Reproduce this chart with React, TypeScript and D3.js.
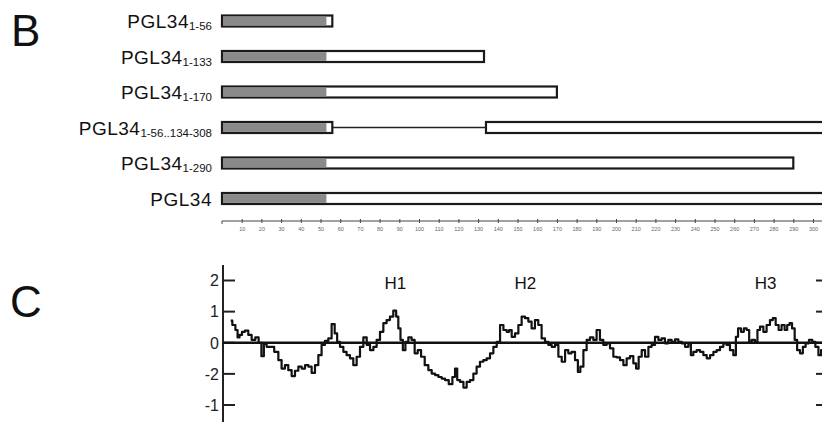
import { useRef, useEffect } from "react";
import * as d3 from "d3";

// panel B: constructs (residue ranges)
const constructNames = ["PGL34", "PGL34", "PGL34", "PGL34", "PGL34", "PGL34"];
const constructSubs = ["1-56", "1-133", "1-170", "1-56..134-308", "1-290", ""];
const constructSegments: [number, number][][] = [
  [[0, 56]],
  [[0, 133]],
  [[0, 170]],
  [[0, 56], [134, 308]],
  [[0, 290]],
  [[0, 308]],
];
const grayEnd = 53;
const axisTicks = d3.range(10, 301, 10);

// panel C: hydropathy trace
const residues = [
  4.4, 6.1, 7.5, 8.3, 9.5, 10.8, 12.5, 14.2, 15.9, 17.9, 19.3, 20.7, 21.8, 23.5, 25.2, 27.8, 29.4, 31.1, 32.8, 34.5,
  36.2, 37.9, 39.6, 41.3, 43.0, 44.7, 46.3, 48.1, 49.7, 51.4, 53.1, 54.8, 56.5, 57.9, 59.0, 60.8, 62.4, 64.1, 65.8, 67.5,
  69.2, 70.9, 72.6, 74.3, 76.0, 77.7, 79.3, 81.1, 82.7, 84.4, 86.1, 87.8, 89.0, 90.0, 91.2, 92.4, 93.8, 95.4, 97.1, 98.5,
  100.2, 101.9, 103.9, 105.6, 107.3, 109.0, 110.7, 112.3, 114.1, 116.1, 117.8, 118.8, 120.0, 121.7, 123.4, 125.0, 126.8, 128.4, 130.1, 131.8,
  133.5, 135.2, 136.9, 138.6, 140.3, 142.0, 143.7, 145.3, 146.2, 147.9, 149.6, 151.3, 152.9, 154.7, 156.3, 158.0, 159.7, 161.4, 163.1, 164.8,
  166.5, 168.2, 169.9, 171.6, 173.3, 175.0, 176.6, 178.3, 180.1, 181.2, 182.6, 184.3, 185.9, 187.7, 189.3, 191.0, 192.7, 194.4, 196.1, 197.8,
  199.5, 201.2, 202.9, 204.6, 206.2, 208.0, 209.6, 210.8, 212.2, 213.9, 215.6, 217.3, 218.9, 220.7, 222.3, 224.0, 225.7, 227.4, 229.1, 230.8,
  232.5, 234.2, 235.9, 237.6, 238.4, 240.1, 241.8, 243.5, 245.2, 246.9, 248.6, 250.3, 251.9, 253.7, 255.3, 257.0, 258.7, 260.4, 261.3, 262.6,
  264.3, 265.5, 267.2, 268.0, 269.7, 271.4, 272.2, 274.0, 275.6, 277.3, 279.0, 280.2, 281.9, 283.2, 284.9, 286.3, 287.5, 288.7, 290.0, 291.4,
  292.5, 294.3, 295.4, 297.1, 298.8, 300.5, 301.9, 303.6, 304.6,
];
const hydropathy = [
  0.71, 0.57, 0.41, 0.17, 0.25, 0.35, 0.39, 0.25, 0.09, 0.17, 0.0, -0.43, -0.04, -0.13, -0.13, -0.29, -0.56, -0.83, -0.72, -0.88,
  -1.07, -0.9, -0.77, -0.83, -0.72, -0.77, -0.97, -0.72, -0.4, -0.07, 0.06, 0.14, 0.6, 0.3, 0.03, -0.13, -0.29, -0.4, -0.5, -0.72,
  -0.45, -0.13, 0.17, -0.07, -0.24, -0.13, 0.09, 0.35, 0.63, 0.73, 0.84, 1.03, 0.84, 0.46, 0.09, -0.24, 0.03, 0.17, 0.09, -0.34,
  -0.24, -0.45, -0.72, -0.88, -0.99, -1.04, -1.1, -1.15, -1.2, -1.33, -1.1, -0.83, -1.2, -1.26, -1.44, -1.26, -1.2, -0.99, -0.77, -0.61,
  -0.56, -0.5, -0.34, -0.13, 0.03, 0.57, 0.41, 0.35, 0.41, 0.19, 0.3, 0.57, 0.84, 0.79, 0.68, 0.46, 0.73, 0.57, 0.14, 0.03,
  -0.07, -0.13, -0.07, -0.45, -0.61, -0.24, -0.34, -0.29, -0.56, -0.94, -0.77, -0.24, 0.09, 0.17, 0.09, 0.41, 0.09, -0.07, -0.02, -0.18,
  -0.45, -0.47, -0.56, -0.72, -0.5, -0.43, -0.66, -0.83, -0.45, -0.24, -0.45, -0.13, -0.07, 0.19, 0.09, 0.14, -0.02, 0.09, 0.03, 0.11,
  0.03, -0.02, -0.13, -0.02, -0.4, -0.29, -0.24, -0.29, -0.4, -0.5, -0.4, -0.29, -0.24, -0.13, -0.02, -0.07, -0.24, -0.4, 0.19, 0.46,
  0.35, 0.46, 0.41, 0.03, 0.09, 0.03, 0.41, 0.52, 0.35, 0.57, 0.73, 0.79, 0.57, 0.41, 0.57, 0.41, 0.57, 0.63, 0.46, 0.09,
  -0.24, -0.34, -0.13, -0.02, 0.09, 0.03, -0.13, -0.4, -0.24,
];
const yTickValues = [2, 1, 0, -1, -2];
const yTickLabels = ["2", "1", "0", "-2", "-1"];
const helixLabels = ["H1", "H2", "H3"];
const helixPositions = [88, 154, 276];

const W = 822;
const H = 422;
const FONT = "'Liberation Sans', Arial, Helvetica, sans-serif";

export default function App() {
  const svgRef = useRef<SVGSVGElement>(null);

  useEffect(() => {
    const svg = d3.select(svgRef.current!);
    svg.selectAll("*").remove();

    const x = d3.scaleLinear().domain([0, 300]).range([222, 813]);

    // ── B ──
    svg.append("text").attr("x", 11).attr("y", 46).attr("font-size", 44)
      .attr("font-family", FONT).attr("fill", "#111").text("B");

    const rowY = d3.scalePoint<number>().domain(d3.range(6)).range([21, 198.5]);

    const rows = svg.append("g");
    constructSegments.forEach((segs, i) => {
      const cy = rowY(i)!;
      const g = rows.append("g");
      // connector for the deletion construct
      if (segs.length > 1) {
        g.append("line")
          .attr("x1", x(segs[0][1])).attr("x2", x(segs[1][0]))
          .attr("y1", cy).attr("y2", cy)
          .attr("stroke", "#222").attr("stroke-width", 1.5);
      }
      segs.forEach(([a, b]) => {
        const x0 = x(a);
        const x1 = Math.min(x(b), W + 4);
        g.append("rect")
          .attr("x", x0).attr("y", cy - 5.5)
          .attr("width", x1 - x0).attr("height", 11)
          .attr("fill", "#fff").attr("stroke", "#1a1a1a").attr("stroke-width", 2.2);
        if (a === 0) {
          g.append("rect")
            .attr("x", x0 + 1).attr("y", cy - 4.4)
            .attr("width", x(grayEnd) - x0 - 1).attr("height", 8.8)
            .attr("fill", "#8a8a8a");
        }
      });

      const t = svg.append("text").attr("x", 212).attr("y", cy + 7)
        .attr("text-anchor", "end").attr("font-family", FONT).attr("fill", "#111");
      t.append("tspan").attr("font-size", 19).attr("letter-spacing", 0.5).text(constructNames[i]);
      if (constructSubs[i]) {
        t.append("tspan").attr("font-size", 11.5).attr("dy", 2).attr("letter-spacing", 0).text(constructSubs[i]);
      }
    });

    // residue axis
    const axisY = 221;
    const ax = svg.append("g").attr("transform", `translate(0,${axisY})`)
      .call(d3.axisBottom(x).tickValues(axisTicks).tickSize(2).tickPadding(4)
        .tickFormat((d) => String(d)));
    ax.select(".domain").attr("d", `M${x(0)},3V0H${W}`).attr("stroke", "#444").attr("stroke-width", 1);
    ax.selectAll(".tick line").attr("y1", -2).attr("y2", 2).attr("stroke", "#444");
    ax.selectAll(".tick text").attr("font-size", 5.5).attr("fill", "#666").attr("font-family", FONT);

    // ── C ──
    svg.append("text").attr("x", 10).attr("y", 317).attr("font-size", 44)
      .attr("font-family", FONT).attr("fill", "#111").text("C");

    const y = d3.scaleLinear().domain([-2, 2]).range([405, 280.5]);
    const yAxisX = 223;

    svg.append("line").attr("x1", yAxisX).attr("x2", yAxisX).attr("y1", 265).attr("y2", H)
      .attr("stroke", "#222").attr("stroke-width", 2);

    yTickValues.forEach((v, i) => {
      svg.append("line").attr("x1", yAxisX).attr("x2", 235).attr("y1", y(v)).attr("y2", y(v))
        .attr("stroke", "#222").attr("stroke-width", 2);
      svg.append("line").attr("x1", 816).attr("x2", W).attr("y1", y(v)).attr("y2", y(v))
        .attr("stroke", "#222").attr("stroke-width", 2);
      svg.append("text").attr("x", 219).attr("y", y(v)).attr("dy", "0.36em")
        .attr("text-anchor", "end").attr("font-size", 16).attr("font-family", FONT)
        .attr("fill", "#222").text(yTickLabels[i]);
    });

    svg.append("line").attr("x1", yAxisX).attr("x2", W).attr("y1", y(0)).attr("y2", y(0))
      .attr("stroke", "#111").attr("stroke-width", 2.5);

    const line = d3.line<number>()
      .x((_, i) => x(residues[i]))
      .y((d) => y(d))
      .curve(d3.curveStep);
    svg.append("path").datum(hydropathy).attr("d", line)
      .attr("fill", "none").attr("stroke", "#111").attr("stroke-width", 2.2)
      .attr("stroke-linejoin", "round");

    helixLabels.forEach((lab, i) => {
      svg.append("text").attr("x", x(helixPositions[i])).attr("y", 289)
        .attr("text-anchor", "middle").attr("font-size", 17).attr("font-family", FONT)
        .attr("fill", "#111").text(lab);
    });
  }, []);

  return (
    <div style={{ position: "absolute", left: 0, top: 0, width: W, height: H, background: "#fff" }}>
      <svg ref={svgRef} width={W} height={H} style={{ display: "block" }} />
    </div>
  );
}
